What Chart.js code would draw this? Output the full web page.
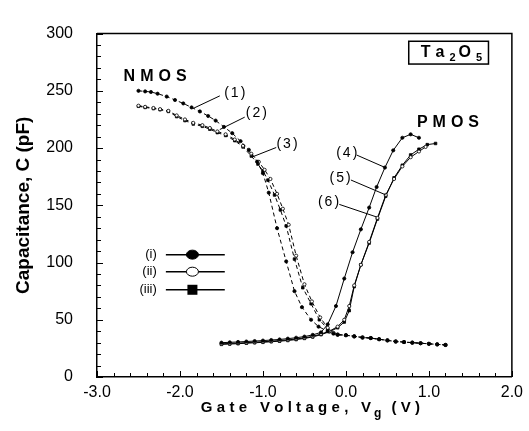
<!DOCTYPE html>
<html>
<head>
<meta charset="utf-8">
<script src="https://cdn.jsdelivr.net/npm/chart.js@4.4.1/dist/chart.umd.min.js"></script>
<style>
  html, body { margin: 0; padding: 0; background: #fff; }
  #wrap { width: 529px; height: 431px; }
</style>
</head>
<body>
<div id="wrap"><canvas id="chart"></canvas></div>
<script>
// Data: gate voltage (V) and capacitance (pF)
const nmosTailV = [-0.1, 0.0, 0.1, 0.2, 0.3, 0.4, 0.5, 0.6, 0.7, 0.8, 0.9, 1.0, 1.1, 1.2];
const nmosTailC = [37, 36.5, 35.5, 34.5, 34, 33, 32, 31, 30.5, 30, 29.5, 29, 28.5, 28];

const nmos1V = [-2.5, -2.42, -2.35, -2.27, -2.16, -2.06, -1.96, -1.86, -1.76, -1.66, -1.57, -1.47, -1.37, -1.27, -1.17, -1.07, -1.0, -0.93, -0.83, -0.72, -0.62, -0.53, -0.42, -0.33, -0.22, -0.15];
const nmos1C = [250, 249.5, 249, 247.5, 245, 242, 239, 235.5, 232, 228, 224, 218.5, 213, 206, 198.5, 188, 178, 161, 130, 101, 75, 61, 50, 44, 40, 38];

const nmos2V = [-2.5, -2.42, -2.32, -2.24, -2.14, -2.04, -1.94, -1.84, -1.73, -1.64, -1.55, -1.45, -1.34, -1.24, -1.14, -1.05, -0.98, -0.91, -0.83, -0.76, -0.69, -0.6, -0.5, -0.41, -0.31, -0.22, -0.15];
const nmos2C = [237, 236, 235, 234, 232.5, 228.5, 225, 222, 220, 217.5, 214.5, 212, 207.5, 202, 195, 188, 181, 173, 160, 147, 133, 106, 81, 66, 52, 43, 38.5];

const nmos3V = [-2.5, -2.42, -2.32, -2.24, -2.14, -2.04, -1.94, -1.84, -1.73, -1.64, -1.55, -1.45, -1.34, -1.24, -1.14, -1.06, -1.0, -0.94, -0.86, -0.79, -0.72, -0.62, -0.52, -0.42, -0.32, -0.22, -0.15];
const nmos3C = [236.5, 235.5, 234.5, 233.5, 232, 227.5, 224, 221, 219, 216.5, 213.5, 211, 206.5, 201, 193, 186, 180, 172, 159, 146, 132, 103, 78, 64, 50, 42, 38];

const pmos4V = [-1.5, -1.4, -1.3, -1.2, -1.1, -1.0, -0.9, -0.8, -0.7, -0.6, -0.5, -0.4, -0.3, -0.22, -0.12, -0.02, 0.08, 0.18, 0.28, 0.37, 0.47, 0.57, 0.68, 0.78, 0.88];
const pmos4C = [30, 30.3, 30.6, 31, 31.4, 31.8, 32.3, 32.8, 33.5, 34.3, 35.3, 36.8, 39, 46, 62, 86, 109, 129, 148, 166, 183, 198, 209, 212, 209];

const pmos5V = [-1.5, -1.4, -1.3, -1.2, -1.1, -1.0, -0.9, -0.8, -0.7, -0.6, -0.5, -0.4, -0.3, -0.2, -0.1, -0.02, 0.04, 0.1, 0.18, 0.28, 0.38, 0.48, 0.58, 0.68, 0.78, 0.88, 0.96];
const pmos5C = [29, 29.3, 29.6, 30, 30.4, 30.8, 31.3, 31.8, 32.4, 33.2, 34.2, 35.5, 37.5, 40, 44, 50, 62, 80, 98, 118, 139, 159, 173, 184, 192, 197, 201];

const pmos6V = [-1.5, -1.4, -1.3, -1.2, -1.1, -1.0, -0.9, -0.8, -0.7, -0.6, -0.5, -0.4, -0.3, -0.2, -0.1, -0.02, 0.04, 0.1, 0.18, 0.28, 0.38, 0.48, 0.58, 0.68, 0.78, 0.88, 0.98, 1.08];
const pmos6C = [28.5, 28.8, 29.1, 29.5, 29.9, 30.3, 30.8, 31.3, 31.9, 32.7, 33.7, 35, 37, 39.5, 43, 48, 58, 79, 98, 117, 138, 158, 174, 185, 194, 199, 203, 204];

const xTicks = [-3.0, -2.0, -1.0, 0.0, 1.0, 2.0];
const yTicks = [0, 50, 100, 150, 200, 250, 300];

// Annotations (data coordinates)
const curveLabels = [
  { text: '(1)', at: [-1.34, 247.7], from: [-1.83, 235], to: [-1.52, 245.6] },
  { text: '(2)', at: [-1.08, 230.3], from: [-1.52, 216.2], to: [-1.22, 227.0] },
  { text: '(3)', at: [-0.71, 203.0], from: [-1.13, 192.2], to: [-0.84, 200.5] },
  { text: '(4)', at: [0.01, 195.5], from: [0.47, 183.1], to: [0.13, 193.9] },
  { text: '(5)', at: [-0.07, 174.0], from: [0.48, 159.1], to: [0.06, 172.1] },
  { text: '(6)', at: [-0.21, 152.4], from: [0.37, 139.8], to: [-0.08, 150.8] }
];
const legendRows = [
  { text: '(i)', c: 106.9, style: 'filled' },
  { text: '(ii)', c: 92.0, style: 'open' },
  { text: '(iii)', c: 76.2, style: 'square' }
];

const pts = (v, c) => v.map((x, i) => ({ x: x, y: c[i] }));

function dashed(data, style) {
  return {
    data: data,
    showLine: true,
    borderColor: '#000',
    borderWidth: 1,
    borderDash: [4, 3],
    pointStyle: style === 'square' ? 'rect' : 'circle',
    pointRadius: style === 'square' ? 1.8 : 1.6,
    pointBackgroundColor: style === 'open' ? '#fff' : '#000',
    pointBorderColor: '#000',
    pointBorderWidth: 0.8
  };
}
function solid(data, style) {
  const d = dashed(data, style);
  d.borderDash = [];
  return d;
}

// Spaced text helper
function spacedWidth(ctx, text, sp) {
  let w = 0;
  for (const ch of text) w += ctx.measureText(ch).width + sp;
  return w - sp;
}
function drawSpaced(ctx, text, x, y, sp) {
  for (const ch of text) {
    ctx.fillText(ch, x, y);
    x += ctx.measureText(ch).width + sp;
  }
  return x;
}

const decor = {
  id: 'decor',
  afterDraw(chart) {
    const { ctx, chartArea: a, scales: { x, y } } = chart;
    const px = v => x.getPixelForValue(v);
    const py = v => y.getPixelForValue(v);
    ctx.save();
    ctx.strokeStyle = '#000';
    ctx.fillStyle = '#000';

    // frame (top, right)
    ctx.lineWidth = 1.5;
    ctx.beginPath();
    ctx.moveTo(a.left, a.top);
    ctx.lineTo(a.right, a.top);
    ctx.lineTo(a.right, a.bottom);
    ctx.stroke();

    // inside ticks
    ctx.lineWidth = 1;
    ctx.beginPath();
    for (let v = 0; v <= 300; v += 10) {
      const len = v % 50 === 0 ? 6 : 4;
      ctx.moveTo(a.left, Math.round(py(v)) + 0.5);
      ctx.lineTo(a.left + len, Math.round(py(v)) + 0.5);
    }
    for (let i = 0; i <= 25; i++) {
      const v = -3 + i * 0.2;
      const len = i % 5 === 0 ? 6 : 4;
      ctx.moveTo(Math.round(px(v)) + 0.5, a.bottom);
      ctx.lineTo(Math.round(px(v)) + 0.5, a.bottom - len);
    }
    ctx.stroke();

    // curve labels and leader lines
    ctx.font = '14px "Liberation Sans", Arial, sans-serif';
    ctx.textBaseline = 'middle';
    ctx.lineWidth = 1;
    for (const l of curveLabels) {
      ctx.beginPath();
      ctx.moveTo(px(l.from[0]), py(l.from[1]));
      ctx.lineTo(px(l.to[0]), py(l.to[1]));
      ctx.stroke();
      const w = spacedWidth(ctx, l.text, 2);
      drawSpaced(ctx, l.text, px(l.at[0]) - w / 2, py(l.at[1]), 2);
    }

    // NMOS / PMOS
    ctx.font = 'bold 16px "Liberation Sans", Arial, sans-serif';
    let w = spacedWidth(ctx, 'NMOS', 5);
    drawSpaced(ctx, 'NMOS', px(-2.3) - w / 2, py(262.6), 5);
    w = spacedWidth(ctx, 'PMOS', 5);
    drawSpaced(ctx, 'PMOS', px(1.23) - w / 2, py(222), 5);

    // Ta2O5 box
    const bx0 = px(0.757), bx1 = px(1.718), by0 = py(293.3), by1 = py(273.4);
    ctx.lineWidth = 1.5;
    ctx.strokeRect(bx0, by0, bx1 - bx0, by1 - by0);
    const ty = (by0 + by1) / 2;
    ctx.font = 'bold 16px "Liberation Sans", Arial, sans-serif';
    let tx = drawSpaced(ctx, 'Ta', bx0 + 12, ty, 5);
    ctx.font = 'bold 11px "Liberation Sans", Arial, sans-serif';
    tx = drawSpaced(ctx, '2', tx, ty + 5, 0) + 3;
    ctx.font = 'bold 16px "Liberation Sans", Arial, sans-serif';
    tx = drawSpaced(ctx, 'O', tx, ty, 0) + 5;
    ctx.font = 'bold 11px "Liberation Sans", Arial, sans-serif';
    drawSpaced(ctx, '5', tx, ty + 5, 0);

    // legend
    ctx.font = '13px "Liberation Sans", Arial, sans-serif';
    for (const r of legendRows) {
      const ry = py(r.c);
      ctx.textAlign = 'right';
      ctx.fillText(r.text, px(-2.28), ry);
      ctx.textAlign = 'left';
      ctx.lineWidth = 1.5;
      ctx.beginPath();
      ctx.moveTo(px(-2.17), ry);
      ctx.lineTo(px(-1.46), ry);
      ctx.stroke();
      const mx = px(-1.85);
      ctx.lineWidth = 1;
      if (r.style === 'square') {
        ctx.fillRect(mx - 5, ry - 5, 10, 10);
      } else {
        ctx.beginPath();
        ctx.ellipse(mx, ry, 6, 4.5, 0, 0, Math.PI * 2);
        ctx.fillStyle = r.style === 'open' ? '#fff' : '#000';
        ctx.fill();
        ctx.stroke();
        ctx.fillStyle = '#000';
      }
    }

    // x-axis title with subscript
    ctx.font = 'bold 15px "Liberation Sans", Arial, sans-serif';
    const part1 = 'Gate Voltage, V', part2 = '(V)';
    const w1 = spacedWidth(ctx, part1, 4.3), w3 = spacedWidth(ctx, part2, 4.3);
    ctx.font = 'bold 12px "Liberation Sans", Arial, sans-serif';
    const w2 = ctx.measureText('g').width;
    const total = w1 + 3 + w2 + 10 + w3;
    const titleY = 408;
    let sx = (a.left + a.right) / 2 + 6 - total / 2;
    ctx.font = 'bold 15px "Liberation Sans", Arial, sans-serif';
    sx = drawSpaced(ctx, part1, sx, titleY, 4.3) + 3 - 4.3;
    ctx.font = 'bold 12px "Liberation Sans", Arial, sans-serif';
    ctx.fillText('g', sx, titleY + 6);
    sx += w2 + 10;
    ctx.font = 'bold 15px "Liberation Sans", Arial, sans-serif';
    drawSpaced(ctx, part2, sx, titleY, 4.3);

    ctx.restore();
  }
};

new Chart(document.getElementById('chart'), {
  type: 'scatter',
  data: {
    datasets: [
      dashed(pts(nmos1V.concat(nmosTailV), nmos1C.concat(nmosTailC)), 'filled'),
      dashed(pts(nmos2V.concat(nmosTailV), nmos2C.concat(nmosTailC)), 'open'),
      dashed(pts(nmos3V.concat(nmosTailV), nmos3C.concat(nmosTailC)), 'square'),
      solid(pts(pmos4V, pmos4C), 'filled'),
      solid(pts(pmos5V, pmos5C), 'open'),
      solid(pts(pmos6V, pmos6C), 'square')
    ]
  },
  options: {
    responsive: true,
    maintainAspectRatio: false,
    animation: false,
    layout: { padding: { top: 14, right: 16, left: 0, bottom: 0 } },
    plugins: { legend: { display: false }, tooltip: { enabled: false } },
    scales: {
      x: {
        type: 'linear',
        min: -3, max: 2,
        afterBuildTicks: s => { s.ticks = xTicks.map(v => ({ value: v })); },
        afterFit: s => { s.height = 54; },
        ticks: {
          color: '#000',
          padding: 6,
          font: { family: '"Liberation Sans", Arial, sans-serif', size: 16 },
          callback: v => Number(v).toFixed(1)
        },
        grid: { display: false, drawTicks: false },
        border: { display: true, color: '#000', width: 1.5 }
      },
      y: {
        min: 0, max: 300,
        afterBuildTicks: s => { s.ticks = yTicks.map(v => ({ value: v })); },
        afterFit: s => { s.width = 97; },
        ticks: {
          color: '#000',
          padding: 24,
          font: { family: '"Liberation Sans", Arial, sans-serif', size: 16 }
        },
        grid: { display: false, drawTicks: false },
        border: { display: true, color: '#000', width: 1.5 },
        title: {
          display: true,
          text: 'Capacitance, C (pF)',
          color: '#000',
          padding: { top: 12, bottom: 0 },
          font: { family: '"Liberation Sans", Arial, sans-serif', size: 19, weight: 'bold' }
        }
      }
    }
  },
  plugins: [decor]
});
</script>
</body>
</html>
